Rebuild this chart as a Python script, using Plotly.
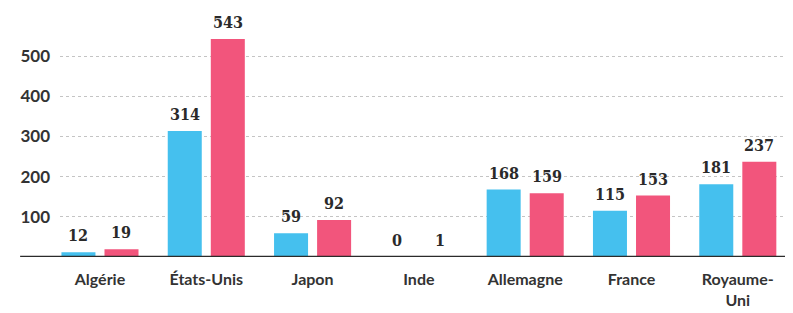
import plotly.graph_objects as go

categories = ["Algérie", "États-Unis", "Japon", "Inde", "Allemagne", "France", "Royaume-<br>Uni"]
series_a = [12, 314, 59, 0, 168, 115, 181]
series_b = [19, 543, 92, 1, 159, 153, 237]
y_ticks = [100, 200, 300, 400, 500]

blue = "#45c0ee"
pink = "#f2557c"
num_font = dict(family="DejaVu Serif Condensed, DejaVu Serif", size=16, color="#2a2a2a")

fig = go.Figure()
fig.add_bar(x=categories, y=series_a, marker_color=blue, marker_line_width=0, name="a")
fig.add_bar(x=categories, y=series_b, marker_color=pink, marker_line_width=0, name="b")

off = 21.5
for c, a, b in zip(categories, series_a, series_b):
    fig.add_annotation(x=c, y=a, text=f"<b>{a}</b>", showarrow=False, yanchor="bottom",
                       xshift=-off, yshift=5, font=num_font)
    fig.add_annotation(x=c, y=b, text=f"<b>{b}</b>", showarrow=False, yanchor="bottom",
                       xshift=off, yshift=5, font=num_font)

fig.add_shape(type="line", xref="paper", yref="y", x0=-0.055, x1=1, y0=0, y1=0,
              line=dict(color="#2b2b2b", width=2.5))

fig.update_layout(
    width=793, height=313,
    margin=dict(l=60, r=8, t=0, b=56),
    paper_bgcolor="white", plot_bgcolor="white",
    barmode="group", bargap=0.19, bargroupgap=0.21,
    showlegend=False,
    xaxis=dict(range=[-0.376, 6.444], showgrid=False, showline=False, ticks="",
               tickfont=dict(family="Lato, Noto Sans", size=16, color="#333333", weight="bold"),
               ticklabelstandoff=11),
    yaxis=dict(range=[0, 640], tickvals=y_ticks, ticktext=[f"<b>{v}</b>" for v in y_ticks],
               showgrid=True, gridcolor="#c4c4c4", griddash="dot", gridwidth=1,
               zeroline=False, showline=False, ticks="",
               tickfont=dict(family="Lato, Noto Sans", size=17, color="#333333"),
               ticklabelstandoff=9),
)

fig.write_html("out.html", config={"displayModeBar": False},
               post_script="document.body.style.margin='0';")
